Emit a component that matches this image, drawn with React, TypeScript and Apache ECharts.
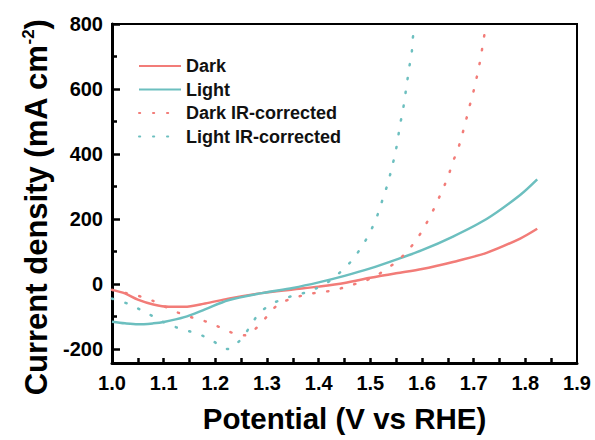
import React, { useEffect, useRef } from "react";
import * as echarts from "echarts";

const darkData: [number, number][] = [
  [1.0, -18], [1.025, -29], [1.05, -48], [1.08, -63], [1.11, -70], [1.14, -70],
  [1.18, -60], [1.225, -45], [1.29, -28], [1.35, -17], [1.4, -8], [1.45, 3],
  [1.5, 19], [1.55, 33], [1.6, 46], [1.66, 68], [1.725, 96], [1.79, 140],
  [1.823, 170],
];

const lightData: [number, number][] = [
  [1.0, -116], [1.025, -121], [1.05, -124], [1.08, -121], [1.1, -117], [1.14, -102],
  [1.18, -78], [1.225, -50], [1.29, -28], [1.35, -12], [1.4, 5], [1.45, 25],
  [1.5, 48], [1.55, 75], [1.6, 104], [1.66, 146], [1.725, 200], [1.79, 274],
  [1.823, 322],
];

const darkIRData: [number, number][] = [
  [1.0, -18], [1.025, -27], [1.052, -37], [1.078, -51], [1.103, -70], [1.128, -88],
  [1.155, -103], [1.183, -116], [1.21, -134], [1.236, -152], [1.258, -158],
  [1.272, -145], [1.286, -125], [1.304, -92], [1.322, -62], [1.346, -46],
  [1.372, -34], [1.4, -26], [1.427, -20], [1.454, -8], [1.48, 5], [1.507, 21],
  [1.528, 43], [1.551, 69], [1.571, 100], [1.59, 138], [1.604, 174], [1.617, 212],
  [1.628, 248], [1.64, 291], [1.651, 332], [1.659, 373], [1.669, 412], [1.677, 455],
  [1.684, 496], [1.691, 541], [1.698, 582], [1.704, 622], [1.71, 666], [1.715, 710],
  [1.719, 751], [1.724, 794], [1.725, 800],
];

const lightIRData: [number, number][] = [
  [1.0, -45], [1.012, -51], [1.035, -63], [1.056, -80], [1.08, -100], [1.101, -118],
  [1.124, -133], [1.151, -146], [1.175, -159], [1.196, -176], [1.214, -196],
  [1.225, -200], [1.236, -191], [1.254, -162], [1.269, -126], [1.285, -90],
  [1.308, -62], [1.33, -47], [1.354, -34], [1.38, -24], [1.393, -15], [1.409, -3],
  [1.428, 17], [1.446, 43], [1.464, 72], [1.48, 107], [1.495, 146], [1.507, 185],
  [1.517, 226], [1.525, 267], [1.534, 310], [1.541, 354], [1.548, 400], [1.553, 443],
  [1.557, 486], [1.5626, 530], [1.567, 576], [1.571, 619], [1.575, 664], [1.58, 710],
  [1.582, 753], [1.586, 800],
];

const xLabels = [1.0, 1.1, 1.2, 1.3, 1.4, 1.5, 1.6, 1.7, 1.8, 1.9];
const xTicks = [1.05, 1.1, 1.15, 1.2, 1.25, 1.3, 1.35, 1.4, 1.45, 1.5, 1.55, 1.6, 1.65, 1.7, 1.75, 1.8, 1.85];
const yLabels = [-200, 0, 200, 400, 600, 800];
const yMinorTicks = [-100, 100, 300, 500, 700];

const RED = "#F27C78";
const CYAN = "#6CBFBF";
const FONT = "Liberation Sans";

export default function App() {
  const ref = useRef<HTMLDivElement>(null);
  useEffect(() => {
    document.body.style.margin = "0";
    if (!ref.current) return;
    const chart = echarts.init(ref.current, null, { renderer: "svg" });
    const dotted = { width: 2.5, type: [1.2, 12.8] as number[], cap: "round" as const };
    chart.setOption({
      animation: false,
      backgroundColor: "#fff",
      grid: {
        left: 112, right: 18, top: 24, bottom: 77,
        show: true, borderColor: "#000", borderWidth: 2, backgroundColor: "transparent",
      },
      legend: {
        orient: "vertical",
        left: 133,
        top: 52,
        itemWidth: 42,
        itemHeight: 14,
        itemGap: 5.5,
        itemStyle: { color: "transparent", borderColor: "transparent", borderWidth: 0, opacity: 0 },
        textStyle: { fontFamily: FONT, fontWeight: "bold", fontSize: 18, color: "#111" },
        data: ["Dark", "Light", "Dark IR-corrected", "Light IR-corrected"],
      },
      xAxis: {
        type: "value",
        min: 1.0,
        max: 1.9,
        name: "Potential (V vs RHE)",
        nameLocation: "middle",
        nameGap: 40,
        nameTextStyle: { fontFamily: FONT, fontWeight: "bold", fontSize: 29.5, color: "#000" },
        axisLine: { onZero: false, lineStyle: { color: "#000", width: 3 } },
        axisTick: { inside: true, length: 5, lineStyle: { color: "#000", width: 2.5 }, customValues: xTicks },
        axisLabel: {
          customValues: xLabels,
          formatter: (v: number) => v.toFixed(1),
          fontFamily: FONT, fontWeight: "bold", fontSize: 20, color: "#000", margin: 10,
        },
        splitLine: { show: false },
      },
      yAxis: [
        {
          type: "value",
          min: -243,
          max: 800,
          name: "{a|Current density (mA cm}{b|-2}{a|)}",
          nameLocation: "middle",
          nameGap: 45,
          nameTextStyle: {
            padding: [0, 28, 0, 0],
            rich: {
              a: { fontFamily: FONT, fontWeight: "bold", fontSize: 31, color: "#000" },
              b: { fontFamily: FONT, fontWeight: "bold", fontSize: 17, color: "#000", verticalAlign: "top", padding: [0, 0, 16, 0] },
            },
          },
          axisLine: { onZero: false, lineStyle: { color: "#000", width: 3 } },
          axisTick: { inside: true, length: 8, lineStyle: { color: "#000", width: 2.5 }, customValues: yLabels },
          axisLabel: {
            customValues: yLabels,
            fontFamily: FONT, fontWeight: "bold", fontSize: 20, color: "#000", margin: 9,
          },
          splitLine: { show: false },
        },
        {
          type: "value",
          min: -243,
          max: 800,
          position: "left",
          axisLine: { show: false, onZero: false },
          axisTick: { inside: true, length: 5, lineStyle: { color: "#000", width: 2.5 }, customValues: yMinorTicks },
          axisLabel: { show: false },
          splitLine: { show: false },
        },
      ],
      series: [
        { name: "Dark", type: "line", data: darkData, smooth: 0.3, symbol: "none", color: RED, lineStyle: { width: 2.5, color: RED } },
        { name: "Light", type: "line", data: lightData, smooth: 0.3, symbol: "none", color: CYAN, lineStyle: { width: 2.5, color: CYAN } },
        { name: "Dark IR-corrected", type: "line", data: darkIRData, smooth: 0.3, symbol: "none", color: RED, lineStyle: { ...dotted, color: RED } },
        { name: "Light IR-corrected", type: "line", data: lightIRData, smooth: 0.3, symbol: "none", color: CYAN, lineStyle: { ...dotted, color: CYAN } },
      ],
    });
    return () => chart.dispose();
  }, []);
  return <div ref={ref} style={{ width: 595, height: 440 }} />;
}
